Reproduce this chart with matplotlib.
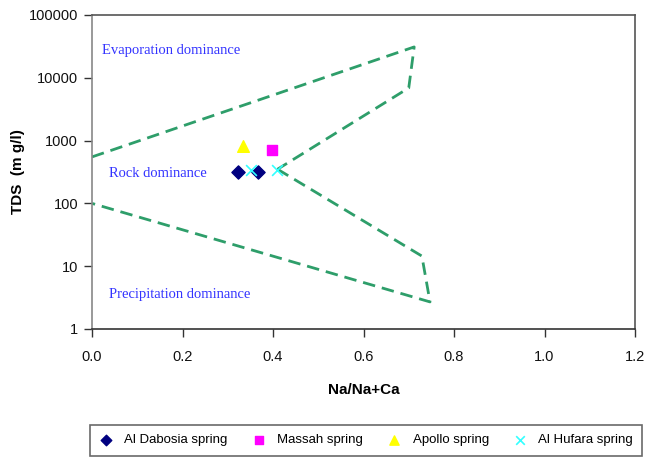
import matplotlib
matplotlib.use("Agg")
import matplotlib.pyplot as plt
import numpy as np

# Boundary (Gibbs diagram) outline
upper_x = [0.0, 0.712, 0.70, 0.41]
upper_y = [550, 31000, 6900, 350]
lower_x = [0.41, 0.729, 0.747, 0.0]
lower_y = [350, 14.5, 2.7, 100]

# Samples
dabosia_x = [0.323, 0.367]
dabosia_y = [320, 320]
massah_x = [0.398]
massah_y = [710]
apollo_x = [0.333]
apollo_y = [820]
hufara_x = [0.351, 0.409]
hufara_y = [340, 340]

xticks = [0.0, 0.2, 0.4, 0.6, 0.8, 1.0, 1.2]
yticks = [1, 10, 100, 1000, 10000, 100000]

sans = ['Liberation Sans', 'DejaVu Sans']

fig = plt.figure(figsize=(6.62, 4.57), dpi=100)
ax = fig.add_axes([92/662, 1-329/457, (635-92)/662, (329-15)/457])

green = '#2e9e6a'
ax.plot(upper_x, upper_y, color=green, lw=2.0, ls=(0, (4.5, 2.5)))
ax.plot(lower_x, lower_y, color=green, lw=2.0, ls=(0, (4.5, 2.5)))

ax.scatter(dabosia_x, dabosia_y, marker='D', s=45, color='#000080', label='Al Dabosia spring', zorder=3)
ax.scatter(massah_x, massah_y, marker='s', s=55, color='#ff00ff', label='Massah spring', zorder=3)
ax.scatter(apollo_x, apollo_y, marker='^', s=70, color='#ffff00', label='Apollo spring', zorder=3)
ax.scatter(hufara_x, hufara_y, marker='x', s=60, color='#33ffff', linewidths=1.2, label='Al Hufara spring', zorder=3)

ax.set_yscale('log')
ax.set_xlim(0, 1.2)
ax.set_ylim(1, 100000)
ax.set_xticks(xticks)
ax.set_xticklabels([f"{v:.1f}" for v in xticks])
ax.set_yticks(yticks)
ax.set_yticklabels([str(v) for v in yticks])
ax.yaxis.set_minor_locator(matplotlib.ticker.NullLocator())

for s in ax.spines.values():
    s.set_color('#555555')
    s.set_linewidth(1.2)
ax.spines['left'].set_color('#888888')
ax.spines['bottom'].set_color('#333333')
ax.tick_params(axis='both', direction='out', length=6, width=1, color='#333333',
               labelsize=10.5)
ax.tick_params(axis='y', pad=4)
ax.tick_params(axis='x', pad=9)
for lab in ax.get_xticklabels() + ax.get_yticklabels():
    lab.set_family(sans)
    lab.set_color('#111111')

ax.set_xlabel('Na/Na+Ca', fontsize=11, fontweight='bold', family=sans, labelpad=14)
ax.set_ylabel('TDS  (m g/l)', fontsize=11, fontweight='bold', family=sans)
ax.yaxis.set_label_coords((25 - 92) / 543, 0.5)

tcol = '#3333ff'
ax.text(0.022, 27000, 'Evaporation dominance', color=tcol, family='Liberation Serif', fontsize=10.5, va='center')
ax.text(0.038, 300, 'Rock dominance', color=tcol, family='Liberation Serif', fontsize=10.5, va='center')
ax.text(0.038, 3.6, 'Precipitation dominance', color=tcol, family='Liberation Serif', fontsize=10.5, va='center')

leg = fig.legend(loc='upper left', bbox_to_anchor=(90/662, 1-425/457), ncol=4,
                 frameon=True, fancybox=False, prop={'family': sans, 'size': 9.5},
                 handlelength=1.0, handletextpad=0.9, columnspacing=1.85,
                 borderpad=0.7, borderaxespad=0, scatterpoints=1, markerscale=0.8)
leg.get_frame().set_edgecolor('#444444')
leg.get_frame().set_linewidth(1.2)

fig.savefig('out.png', dpi=100)
